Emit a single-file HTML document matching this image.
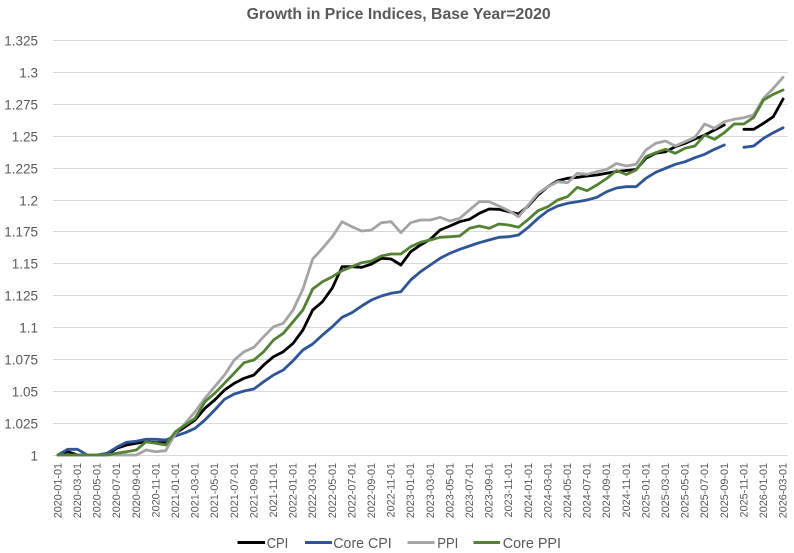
<!DOCTYPE html>
<html>
<head>
<meta charset="utf-8">
<style>
html,body{margin:0;padding:0;background:#ffffff;}
svg{display:block;}
text{font-family:"Liberation Sans",sans-serif;fill:#595959;}
</style>
</head>
<body>
<svg width="794" height="553" viewBox="0 0 794 553" xmlns="http://www.w3.org/2000/svg">
<rect x="0" y="0" width="794" height="553" fill="#ffffff"/>
<!-- title -->
<text x="398.7" y="19" text-anchor="middle" font-size="15.75" font-weight="bold" textLength="304" lengthAdjust="spacingAndGlyphs">Growth in Price Indices, Base Year=2020</text>

<!-- gridlines -->
<g stroke="#d9d9d9" stroke-width="1">
<line x1="53" x2="788" y1="40.5" y2="40.5"/>
<line x1="53" x2="788" y1="72.5" y2="72.5"/>
<line x1="53" x2="788" y1="104.5" y2="104.5"/>
<line x1="53" x2="788" y1="136.5" y2="136.5"/>
<line x1="53" x2="788" y1="168.5" y2="168.5"/>
<line x1="53" x2="788" y1="200.5" y2="200.5"/>
<line x1="53" x2="788" y1="231.5" y2="231.5"/>
<line x1="53" x2="788" y1="263.5" y2="263.5"/>
<line x1="53" x2="788" y1="295.5" y2="295.5"/>
<line x1="53" x2="788" y1="327.5" y2="327.5"/>
<line x1="53" x2="788" y1="359.5" y2="359.5"/>
<line x1="53" x2="788" y1="391.5" y2="391.5"/>
<line x1="53" x2="788" y1="423.5" y2="423.5"/>
<line x1="53" x2="788" y1="455.5" y2="455.5"/>
</g>

<!-- y labels -->
<g font-size="13.5" text-anchor="end">
<text x="38" y="45.5">1.325</text>
<text x="38" y="77.5">1.3</text>
<text x="38" y="109.5">1.275</text>
<text x="38" y="141.5">1.25</text>
<text x="38" y="173.5">1.225</text>
<text x="38" y="205.5">1.2</text>
<text x="38" y="236.5">1.175</text>
<text x="38" y="268.5">1.15</text>
<text x="38" y="300.5">1.125</text>
<text x="38" y="332.5">1.1</text>
<text x="38" y="364.5">1.075</text>
<text x="38" y="396.5">1.05</text>
<text x="38" y="428.5">1.025</text>
<text x="38" y="460.5">1</text>
</g>

<!-- x labels -->
<g font-size="10.8" text-anchor="end">
<text transform="translate(61.4,463) rotate(-90)">2020-01-01</text>
<text transform="translate(81.0,463) rotate(-90)">2020-03-01</text>
<text transform="translate(100.6,463) rotate(-90)">2020-05-01</text>
<text transform="translate(120.2,463) rotate(-90)">2020-07-01</text>
<text transform="translate(139.8,463) rotate(-90)">2020-09-01</text>
<text transform="translate(159.4,463) rotate(-90)">2020-11-01</text>
<text transform="translate(179.0,463) rotate(-90)">2021-01-01</text>
<text transform="translate(198.6,463) rotate(-90)">2021-03-01</text>
<text transform="translate(218.2,463) rotate(-90)">2021-05-01</text>
<text transform="translate(237.8,463) rotate(-90)">2021-07-01</text>
<text transform="translate(257.4,463) rotate(-90)">2021-09-01</text>
<text transform="translate(277.0,463) rotate(-90)">2021-11-01</text>
<text transform="translate(296.6,463) rotate(-90)">2022-01-01</text>
<text transform="translate(316.2,463) rotate(-90)">2022-03-01</text>
<text transform="translate(335.8,463) rotate(-90)">2022-05-01</text>
<text transform="translate(355.4,463) rotate(-90)">2022-07-01</text>
<text transform="translate(375.0,463) rotate(-90)">2022-09-01</text>
<text transform="translate(394.6,463) rotate(-90)">2022-11-01</text>
<text transform="translate(414.2,463) rotate(-90)">2023-01-01</text>
<text transform="translate(433.8,463) rotate(-90)">2023-03-01</text>
<text transform="translate(453.4,463) rotate(-90)">2023-05-01</text>
<text transform="translate(473.0,463) rotate(-90)">2023-07-01</text>
<text transform="translate(492.6,463) rotate(-90)">2023-09-01</text>
<text transform="translate(512.2,463) rotate(-90)">2023-11-01</text>
<text transform="translate(531.8,463) rotate(-90)">2024-01-01</text>
<text transform="translate(551.4,463) rotate(-90)">2024-03-01</text>
<text transform="translate(571.0,463) rotate(-90)">2024-05-01</text>
<text transform="translate(590.6,463) rotate(-90)">2024-07-01</text>
<text transform="translate(610.2,463) rotate(-90)">2024-09-01</text>
<text transform="translate(629.8,463) rotate(-90)">2024-11-01</text>
<text transform="translate(649.4,463) rotate(-90)">2025-01-01</text>
<text transform="translate(669.0,463) rotate(-90)">2025-03-01</text>
<text transform="translate(688.6,463) rotate(-90)">2025-05-01</text>
<text transform="translate(708.2,463) rotate(-90)">2025-07-01</text>
<text transform="translate(727.8,463) rotate(-90)">2025-09-01</text>
<text transform="translate(747.4,463) rotate(-90)">2025-11-01</text>
<text transform="translate(767.0,463) rotate(-90)">2026-01-01</text>
<text transform="translate(786.6,463) rotate(-90)">2026-03-01</text>
</g>

<!-- series -->
<g fill="none" stroke-width="2.8" stroke-linejoin="round" stroke-linecap="round">
<!-- CPI -->
<polyline stroke="#000000" points="57.9,455 67.7,451.7 77.5,455 87.3,455 97.1,455 106.9,455 116.7,448.3 126.5,445 136.3,443.3 146.1,441.7 155.9,442.7 165.7,442.7 175.5,433.3 185.3,426.7 195.1,420 204.9,408.3 214.7,400 224.5,390 234.3,383.3 244.1,378.3 253.9,375 263.7,365 273.5,356.7 283.3,351.7 293.1,343.3 302.9,330 312.7,310 322.5,301.7 332.3,288 342.1,266.7 351.9,266.7 361.7,267.3 371.5,264 381.3,258.3 391.1,259 400.9,265 410.7,251.7 420.5,245 430.3,239.3 440.1,230 449.9,226 459.7,221.7 469.5,219.3 479.3,213.3 489.1,209 498.9,209.3 508.7,211.7 518.5,214 528.3,206 538.1,195 547.9,186.7 557.7,180.7 567.5,178.3 577.3,177.3 587.1,176 596.9,175 606.7,173.3 616.5,171.5 626.3,170.5 636.1,169.5 645.9,158.3 655.7,153.3 665.5,151.7 675.3,146.7 685.1,143.3 694.9,139 704.7,135 714.5,130 724.3,125"/>
<polyline stroke="#000000" points="743.9,129.3 753.7,129.3 763.5,123.3 773.3,116.7 783.1,99"/>
<!-- Core CPI -->
<polyline stroke="#2f5597" points="57.9,455 67.7,449.3 77.5,449.3 87.3,455 97.1,455 106.9,453.3 116.7,447.3 126.5,442.3 136.3,441.3 146.1,439.3 155.9,439.3 165.7,440 175.5,436 185.3,432.7 195.1,428.3 204.9,420 214.7,410 224.5,399.3 234.3,394 244.1,391 253.9,389 263.7,381.7 273.5,375 283.3,370 293.1,360.7 302.9,350 312.7,344 322.5,335 332.3,326.7 342.1,317.3 351.9,312.7 361.7,306 371.5,300 381.3,296 391.1,293.3 400.9,291.7 410.7,280 420.5,271.7 430.3,265 440.1,258.3 449.9,253.3 459.7,249.3 469.5,246 479.3,242.7 489.1,240 498.9,237.3 508.7,236.7 518.5,235 528.3,227.3 538.1,218.3 547.9,210.7 557.7,206 567.5,203.3 577.3,201.7 587.1,200 596.9,197.3 606.7,191.7 616.5,188 626.3,186.7 636.1,186.7 645.9,178.3 655.7,172.3 665.5,168.3 675.3,164.3 685.1,161.7 694.9,157.7 704.7,154.3 714.5,149.3 724.3,145"/>
<polyline stroke="#2f5597" points="743.9,147.3 753.7,146 763.5,138.3 773.3,132.7 783.1,127.7"/>
<!-- PPI -->
<polyline stroke="#a5a5a5" points="57.9,455 67.7,455 77.5,455 87.3,455 97.1,455 106.9,455 116.7,455 126.5,455 136.3,455 146.1,450 155.9,451.7 165.7,450.7 175.5,433.3 185.3,423.3 195.1,411.7 204.9,398.3 214.7,386.7 224.5,375 234.3,360 244.1,351.7 253.9,347.3 263.7,336.7 273.5,326.7 283.3,323.3 293.1,310 302.9,289 312.7,259 322.5,248.3 332.3,236.7 342.1,221.7 351.9,226.7 361.7,231 371.5,230 381.3,222.7 391.1,221.7 400.9,232.7 410.7,222.7 420.5,220 430.3,220 440.1,217.3 449.9,221 459.7,218.3 469.5,210 479.3,201.7 489.1,201.7 498.9,206 508.7,210.7 518.5,216.7 528.3,205 538.1,193.3 547.9,186.7 557.7,181.7 567.5,182.7 577.3,173.3 587.1,174.3 596.9,171.7 606.7,169.5 616.5,163.5 626.3,166 636.1,164.3 645.9,150 655.7,143.3 665.5,141 675.3,146 685.1,141.7 694.9,137.3 704.7,124 714.5,128.3 724.3,121.7 734.1,119.3 743.9,117.7 753.7,115 763.5,98.3 773.3,88.3 783.1,77.3"/>
<!-- Core PPI -->
<polyline stroke="#548235" points="57.9,455 67.7,455 77.5,455 87.3,455 97.1,455 106.9,455 116.7,453.3 126.5,451.7 136.3,450 146.1,441.7 155.9,443.3 165.7,445 175.5,431.7 185.3,425 195.1,418.3 204.9,401.7 214.7,393.3 224.5,383.3 234.3,373 244.1,362.7 253.9,360 263.7,351.7 273.5,340 283.3,333.3 293.1,321.7 302.9,310 312.7,289 322.5,281.7 332.3,276.7 342.1,270.7 351.9,266.7 361.7,262.7 371.5,261 381.3,256 391.1,254 400.9,254 410.7,246.7 420.5,242.3 430.3,240 440.1,237.3 449.9,236.7 459.7,236 469.5,228.3 479.3,226 489.1,228.3 498.9,224 508.7,225 518.5,227.3 528.3,219.3 538.1,210.7 547.9,206.7 557.7,200 567.5,196.7 577.3,187.3 587.1,190.7 596.9,185 606.7,178.5 616.5,170.5 626.3,174.5 636.1,170 645.9,156.7 655.7,152.7 665.5,149.3 675.3,153.3 685.1,148.3 694.9,146 704.7,135 714.5,139.3 724.3,132.7 734.1,124 743.9,124 753.7,117.3 763.5,100 773.3,94.3 783.1,90"/>
</g>

<!-- legend -->
<g stroke-width="3" stroke-linecap="butt">
<line x1="237.5" x2="265" y1="542.5" y2="542.5" stroke="#000000"/>
<line x1="305" x2="332" y1="542.5" y2="542.5" stroke="#2f5597"/>
<line x1="407.5" x2="434.5" y1="542.5" y2="542.5" stroke="#a5a5a5"/>
<line x1="473.5" x2="500" y1="542.5" y2="542.5" stroke="#548235"/>
</g>
<g font-size="15">
<text x="266.7" y="548" textLength="21.6" lengthAdjust="spacingAndGlyphs">CPI</text>
<text x="333.3" y="548" textLength="58.4" lengthAdjust="spacingAndGlyphs">Core CPI</text>
<text x="437.3" y="548" textLength="21" lengthAdjust="spacingAndGlyphs">PPI</text>
<text x="502.7" y="548" textLength="58.3" lengthAdjust="spacingAndGlyphs">Core PPI</text>
</g>
</svg>
</body>
</html>
